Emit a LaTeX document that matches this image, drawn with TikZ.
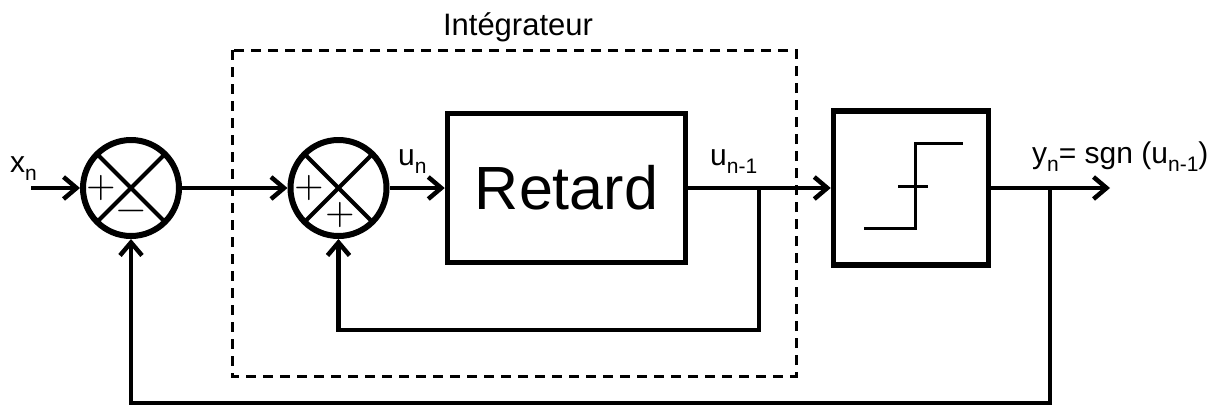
\documentclass[tikz,border=0pt]{standalone}
\usepackage{fontspec}
\setmainfont{Liberation Sans}
\newfontfamily\signfont{lmroman10-regular.otf}
\usetikzlibrary{arrows.meta}
\newcommand\lsub[1]{\raisebox{-8pt}{\fontsize{21}{21}\selectfont #1}}
\begin{document}
\begin{tikzpicture}[x=1pt,y=-1pt,
  conn/.style={line width=4.5pt},
  arr/.style={conn,-{Straight Barb[length=13pt,width=22pt]}},
  sumc/.style={circle,draw,line width=6pt,minimum size=96pt,inner sep=0pt},
  blockbox/.style={draw,line width=5.5pt,inner sep=0pt},
  lbl/.style={inner sep=0pt,anchor=base west,font=\fontsize{30}{30}\selectfont},
  sgnlbl/.style={inner sep=0pt,font=\signfont\fontsize{38}{38}\selectfont},
  dashbox/.style={line width=3pt,dash pattern=on 10pt off 7pt},
  steplines/.style={line width=3pt}]
\useasboundingbox (0,0) rectangle (1215,405);
% summing junctions
\node[sumc] (s1) at (131,188) {};
\node[sumc] (s2) at (338.5,188) {};
\foreach \s in {s1,s2}{
  \draw[line width=4pt] ([shift={(45:48)}]\s.center) -- ([shift={(225:48)}]\s.center);
  \draw[line width=4pt] ([shift={(135:48)}]\s.center) -- ([shift={(-45:48)}]\s.center);
}
\node[sgnlbl] (p1) at (101,188) {+};
\node[sgnlbl] (m1) at (131,215) {−};
\node[sgnlbl] (p2) at (309,188) {+};
\node[sgnlbl] (p3) at (340,215) {+};
% blocks
\node[blockbox,minimum width=238pt,minimum height=149pt,font=\fontsize{61}{61}\selectfont] (ret) at (566.5,188) {Retard};
\node[blockbox,minimum width=155pt,minimum height=154pt] (sgn) at (911,188) {};
\draw[steplines] (864,228) -- (915,228) -- (915,143) -- (963,143);
\draw[steplines] (898,186) -- (928,186);
% integrator frame
\draw[dashbox] (232,50) rectangle (796,376);
\node[inner sep=0pt,anchor=base,font=\fontsize{31}{31}\selectfont] (integ) at (518,35) {Intégrateur};
% coordinates
\coordinate (xin) at (31,188);
\coordinate (yout) at (1110,188);
\coordinate (b1) at (759,188);
\coordinate (b1bot) at (759,330);
\coordinate (b2) at (1050,188);
\coordinate (b2bot) at (1050,403);
% connectors
\draw[arr] (xin) -- (s1.west);
\draw[arr] (s1.east) -- (s2.west);
\draw[arr] (s2.east) -- (ret.west);
\draw[arr] (ret.east) -- (sgn.west);
\draw[arr] (sgn.east) -- (yout);
\draw[arr] (b1) -- (b1bot) -| (s2.south);
\draw[arr] (b2) -- (b2bot) -| (s1.south);
% labels
\node[lbl] (lx) at (10,172) {x\lsub{n}};
\node[lbl] (lu) at (398,165) {u\lsub{n}};
\node[lbl] (lu1) at (710,165) {u\lsub{n-1}};
\node[lbl] (ly) at (1032,163) {y\lsub{n}= sgn (u\lsub{n-1})};
\end{tikzpicture}
\end{document}
